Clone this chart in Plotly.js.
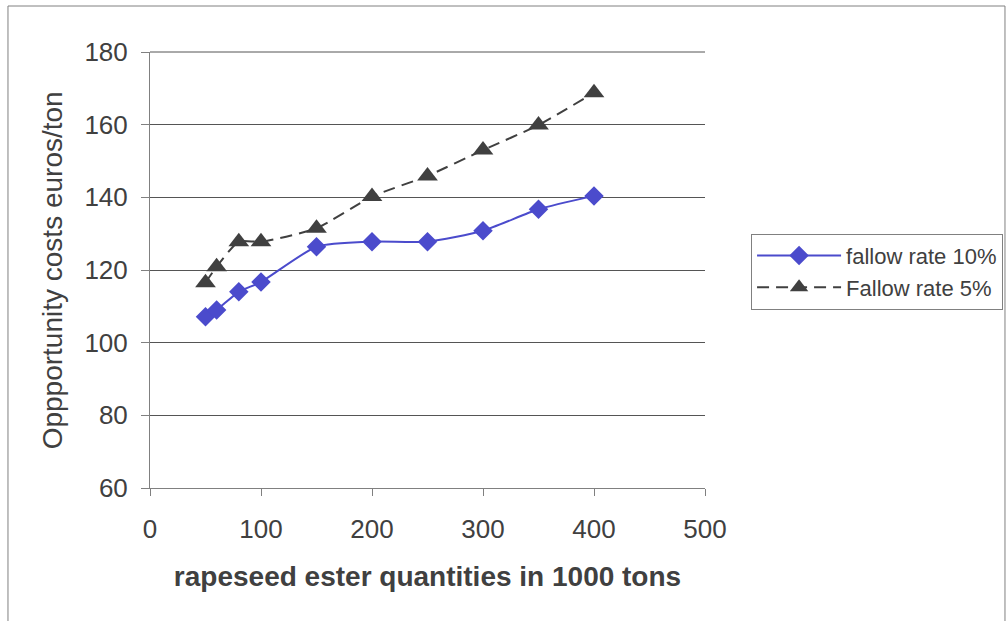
<!DOCTYPE html>
<html>
<head>
<meta charset="utf-8">
<script src="https://cdn.plot.ly/plotly-3.0.1.min.js"></script>
<style>html,body{margin:0;padding:0;background:#fff;}#chart{width:1006px;height:621px;}</style>
</head>
<body>
<div id="chart"></div>
<script>
var quantities = [50, 60, 80, 100, 150, 200, 250, 300, 350, 400];
var fallow10 = [107.1, 109.0, 114.0, 116.7, 126.4, 127.8, 127.8, 130.8, 136.7, 140.4];
var fallow5 = [116.5, 120.9, 127.8, 127.8, 131.5, 140.2, 145.9, 153.0, 159.9, 168.8];
var seriesNames = ["fallow rate 10%", "Fallow rate 5%"];
var xTicks = [0, 100, 200, 300, 400, 500];
var yTicks = [60, 80, 100, 120, 140, 160, 180];
var yTitle = "Oppportunity costs euros/ton";
var xTitle = "rapeseed ester quantities in 1000 tons";

var font = "Liberation Sans, Arial, sans-serif";
var textColor = "#404040";
var traces = [
  {x: quantities, y: fallow10, name: seriesNames[0], type: "scatter", mode: "lines+markers",
   line: {color: "#4B4BCC", width: 2, shape: "spline", smoothing: 0.6},
   marker: {symbol: "diamond", size: 15, color: "#4B4BCC"}},
  {x: quantities, y: fallow5, name: seriesNames[1], type: "scatter", mode: "lines+markers",
   line: {color: "#404040", width: 2, dash: "12px,7px", shape: "spline", smoothing: 0.6},
   marker: {symbol: "triangle-up", size: 18, color: "#404040"}}
];
var layout = {
  width: 1006, height: 621,
  margin: {l: 150, r: 301, t: 52, b: 133, autoexpand: false},
  paper_bgcolor: "#fff", plot_bgcolor: "#fff",
  font: {family: font, color: textColor, size: 20},
  showlegend: true,
  legend: {x: 1.083, y: 0.583, xanchor: "left", yanchor: "top",
    bordercolor: "#808080", borderwidth: 1, font: {size: 22, color: textColor},
    itemwidth: 84, tracegroupgap: 0},
  xaxis: {range: [0, 500], tickvals: xTicks, ticktext: xTicks.map(String), automargin: false,
    showgrid: false, zeroline: false, showline: true, linecolor: "#808080", linewidth: 1,
    ticks: "outside", ticklen: 7, tickcolor: "#808080", ticklabelstandoff: 11,
    tickfont: {size: 26, color: textColor},
    title: {text: "<b>" + xTitle + "</b>", font: {size: 28, color: textColor}, standoff: 23}},
  yaxis: {range: [60, 180], tickvals: yTicks, ticktext: yTicks.map(String), automargin: false,
    showgrid: true, gridcolor: "#555", gridwidth: 1, zeroline: false,
    showline: true, linecolor: "#808080", linewidth: 1,
    ticks: "outside", ticklen: 8, tickcolor: "#808080", ticklabelstandoff: 8,
    tickfont: {size: 26, color: textColor}},
  annotations: [
    {text: yTitle, xref: "paper", yref: "paper", x: -0.176, y: 0.5, xanchor: "center", yanchor: "middle",
     textangle: -90, showarrow: false, font: {size: 28, color: textColor}}
  ],
  shapes: [
    {type: "rect", xref: "paper", yref: "paper", x0: -0.2559, x1: 1.5405, y0: -0.4, y1: 1.1055,
     line: {color: "#808080", width: 1}, fillcolor: "rgba(0,0,0,0)", layer: "below"},
    {type: "line", xref: "paper", yref: "paper", x0: 0, x1: 1, y0: 1, y1: 1,
     line: {color: "#555", width: 1}}
  ]
};
Plotly.newPlot("chart", traces, layout, {displayModeBar: false, staticPlot: true});
</script>
</body>
</html>
